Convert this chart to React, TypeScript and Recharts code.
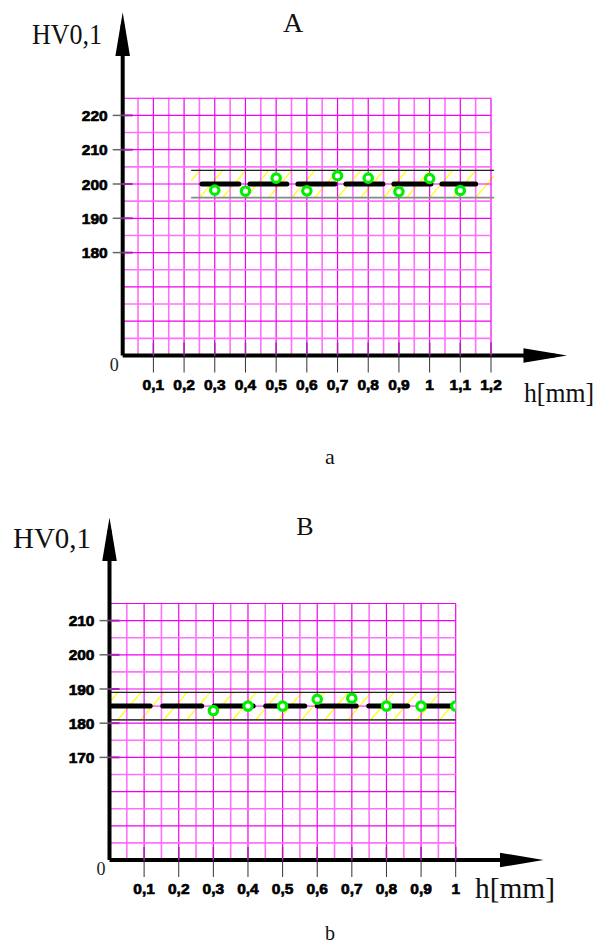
import React from 'react';
import { ComposedChart, XAxis, YAxis, Scatter, Line, ReferenceLine, ReferenceArea } from 'recharts';

// measured hardness, panel A
const hA = [0.3, 0.4, 0.5, 0.6, 0.7, 0.8, 0.9, 1.0, 1.1];
const hvA = [198.2, 197.9, 201.7, 198.0, 202.4, 201.7, 197.8, 201.6, 198.1];
// measured hardness, panel B
const hB = [0.3, 0.4, 0.5, 0.6, 0.7, 0.8, 0.9, 1.0];
const hvB = [183.7, 185.0, 185.0, 187.0, 187.3, 185.0, 185.0, 185.0];

const xTicksA = [0.1, 0.2, 0.3, 0.4, 0.5, 0.6, 0.7, 0.8, 0.9, 1.0, 1.1, 1.2];
const yTicksA = [150, 180, 190, 200, 210, 220];
const xTicksB = [0.1, 0.2, 0.3, 0.4, 0.5, 0.6, 0.7, 0.8, 0.9, 1.0];
const yTicksB = [140, 170, 180, 190, 200, 210];

// nominal value, its extent, and tolerance band
const nominalA = 200;
const nominalSpanA = [0.258, 1.15];
const bandA = [196, 204];
const bandSpanA = [0.223, 1.21];
const nominalB = 185;
const nominalSpanB = [0.005, 1.0];
const bandB = [181, 189];
const bandSpanB = [0, 1.0];

// axis extents (arrow lines)
const axisEndA = { x: 1.408, y: 246.4 };
const axisEndB = { x: 1.2175, y: 236.5 };

type Pt = { h: number; hv: number };
const toPoints = (hs: number[], vs: number[]): Pt[] => hs.map((h, i) => ({ h, hv: vs[i] }));

const gridValues = (from: number, to: number, step: number) => {
  const out: number[] = [];
  for (let v = from + step; v <= to + 1e-9; v += step) out.push(+v.toFixed(3));
  return out;
};

const MAJOR = '#f000f0';
const MINOR = '#ff70ff';
const tickFont = 'Liberation Sans, Arial, sans-serif';

const XTick = (props: any) => {
  const { x, y, payload } = props;
  const label = String(payload.value).replace('.', ',');
  return (
    <g>
      <line x1={x} y1={y} x2={x} y2={y - 13} stroke="#b020b0" strokeWidth={1.5} />
      <line x1={x} y1={y} x2={x} y2={y + 17} stroke="#333" strokeWidth={1} />
      <text x={x} y={y + 34} textAnchor="middle" fontFamily={tickFont} fontWeight="bold"
        fontSize={15.5} fill="#000" stroke="#000" strokeWidth={0.7}>{label}</text>
    </g>
  );
};

const YTick = (props: any) => {
  const { x, y, payload, yMin } = props;
  if (payload.value === yMin) {
    return (
      <text x={x - 4} y={y + 15} textAnchor="end" fontFamily="Liberation Serif, Times New Roman, serif"
        fontSize={18} fill="#222">0</text>
    );
  }
  return (
    <g>
      <line x1={x - 10} y1={y} x2={x} y2={y} stroke="#666" strokeWidth={1.5} />
      <line x1={x} y1={y} x2={x + 10} y2={y} stroke="#b020b0" strokeWidth={2} />
      <text x={x - 15} y={y + 5.5} textAnchor="end" fontFamily={tickFont} fontWeight="bold"
        fontSize={15.5} fill="#000" stroke="#000" strokeWidth={0.7}>{payload.value}</text>
    </g>
  );
};

const Ring = (props: any) => (
  <circle cx={props.cx} cy={props.cy} r={4.2} fill="#fff" stroke="#00ee00" strokeWidth={3.2} />
);

interface PanelProps {
  height: number;
  margin: { top: number; right: number; bottom: number; left: number };
  xMax: number;
  yMin: number;
  yMax: number;
  xTicks: number[];
  yTicks: number[];
  points: Pt[];
  nominal: number;
  nominalSpan: number[];
  band: number[];
  bandSpan: number[];
  axisEnd: { x: number; y: number };
  dash: string;
  bottomLine: string;
}

const Panel = (p: PanelProps) => {
  const gx = gridValues(0, p.xMax, 0.05);
  const gy = gridValues(p.yMin, p.yMax, 5);
  const nominalLine = p.nominalSpan.map((h) => ({ h, hv: p.nominal }));
  return (
    <ComposedChart width={599} height={p.height} margin={p.margin}>
      <XAxis type="number" dataKey="h" domain={[0, p.xMax]} ticks={p.xTicks} interval={0}
        axisLine={false} tickLine={false} tickSize={0} tickMargin={0} height={40}
        allowDataOverflow tick={(t: any) => <XTick {...t} />} />
      <YAxis type="number" dataKey="hv" domain={[p.yMin, p.yMax]} ticks={p.yTicks} interval={0}
        axisLine={false} tickLine={false} tickSize={0} tickMargin={0} width={60}
        allowDataOverflow tick={(t: any) => <YTick {...t} yMin={p.yMin} />} />
      {gx.map((v) => {
        const major = Math.round(v * 100) % 10 === 0;
        return (
          <ReferenceLine key={'gx' + v} x={v} ifOverflow="visible"
            stroke={major ? MAJOR : MINOR} strokeWidth={major ? 1.2 : 1.6} />
        );
      })}
      {gy.map((v) => {
        const major = v % 10 === 0 || v === p.yMax;
        return (
          <ReferenceLine key={'gy' + v} y={v} ifOverflow="visible"
            stroke={major ? MAJOR : MINOR} strokeWidth={major ? 1.2 : 1.6} />
        );
      })}
      <ReferenceArea x1={p.bandSpan[0]} x2={p.bandSpan[1]} y1={p.band[0]} y2={p.band[1]}
        ifOverflow="visible" fill="url(#hatch)" fillOpacity={1} stroke="none" />
      <ReferenceLine ifOverflow="visible" stroke="#222" strokeWidth={1.2}
        segment={[{ x: p.bandSpan[0], y: p.band[1] }, { x: p.bandSpan[1], y: p.band[1] }]} />
      <ReferenceLine ifOverflow="visible" stroke={p.bottomLine} strokeWidth={1.8}
        segment={[{ x: p.bandSpan[0], y: p.band[0] }, { x: p.bandSpan[1], y: p.band[0] }]} />
      <Line data={nominalLine} dataKey="hv" stroke="#000" strokeWidth={5} strokeDasharray={p.dash}
        strokeLinecap="round" dot={false} activeDot={false} isAnimationActive={false} />
      <Scatter data={p.points} dataKey="hv" shape={Ring} isAnimationActive={false} />
      <ReferenceLine ifOverflow="visible" stroke="#000" strokeWidth={4} markerEnd="url(#arrowhead)"
        segment={[{ x: 0, y: p.yMin }, { x: 0, y: p.axisEnd.y }]} />
      <ReferenceLine ifOverflow="visible" stroke="#000" strokeWidth={4} markerEnd="url(#arrowhead)"
        segment={[{ x: 0, y: p.yMin }, { x: p.axisEnd.x, y: p.yMin }]} />
    </ComposedChart>
  );
};

const serif = 'Liberation Serif, Times New Roman, serif';

export default function App() {
  return (
    <div style={{ position: 'absolute', left: 0, top: 0, width: 599, height: 952, background: '#fff' }}>
      <svg width={0} height={0} style={{ position: 'absolute' }}>
        <defs>
          <pattern id="hatch" patternUnits="userSpaceOnUse" width={23} height={27}>
            <line x1={0} y1={27} x2={23} y2={0} stroke="#ffff00" strokeWidth={1.2} />
          </pattern>
          <marker id="arrowhead" markerUnits="userSpaceOnUse" markerWidth={44} markerHeight={16}
            viewBox="0 0 42 14" refX={30} refY={7} orient="auto">
            <path d="M0,0 L42,7 L0,14 Z" fill="#000" />
          </marker>
        </defs>
      </svg>
      <div style={{ position: 'absolute', left: 0, top: 0 }}>
        <Panel height={470} margin={{ top: 98.25, right: 108, bottom: 74.5, left: 62.7 }}
          xMax={1.2} yMin={150} yMax={225} xTicks={xTicksA} yTicks={yTicksA}
          points={toPoints(hA, hvA)} nominal={nominalA} nominalSpan={nominalSpanA}
          band={bandA} bandSpan={bandSpanA} axisEnd={axisEndA} dash="37 11" bottomLine="#888" />
      </div>
      <div style={{ position: 'absolute', left: 0, top: 480 }}>
        <Panel height={472} margin={{ top: 123.5, right: 143.3, bottom: 52, left: 49.5 }}
          xMax={1.0} yMin={140} yMax={215} xTicks={xTicksB} yTicks={yTicksB}
          points={toPoints(hB, hvB)} nominal={nominalB} nominalSpan={nominalSpanB}
          band={bandB} bandSpan={bandSpanB} axisEnd={axisEndB} dash="39 12.5" bottomLine="#444" />
      </div>
      <svg width={599} height={952} style={{ position: 'absolute', left: 0, top: 0, pointerEvents: 'none' }}>
        <text x={32} y={44} fontFamily={serif} fontSize={30} textLength={70} lengthAdjust="spacingAndGlyphs" fill="#111">HV0,1</text>
        <text x={293} y={32} textAnchor="middle" fontFamily={serif} fontSize={28} fill="#111">A</text>
        <text x={524} y={402} fontFamily={serif} fontSize={27} textLength={70} lengthAdjust="spacingAndGlyphs" fill="#111">h[mm]</text>
        <text x={330} y={464} textAnchor="middle" fontFamily={serif} fontSize={22} fill="#111">a</text>
        <text x={13} y={548} fontFamily={serif} fontSize={30} textLength={78} lengthAdjust="spacingAndGlyphs" fill="#111">HV0,1</text>
        <text x={305} y={535} textAnchor="middle" fontFamily={serif} fontSize={26} fill="#111">B</text>
        <text x={475} y={898} fontFamily={serif} fontSize={30} textLength={80} lengthAdjust="spacingAndGlyphs" fill="#111">h[mm]</text>
        <text x={330} y={940} textAnchor="middle" fontFamily={serif} fontSize={20} fill="#111">b</text>
      </svg>
    </div>
  );
}
